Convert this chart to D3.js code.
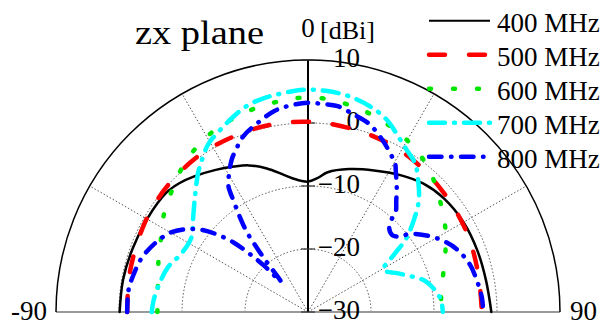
<!DOCTYPE html>
<html>
<head>
<meta charset="utf-8">
<title>zx plane</title>
<style type="text/css">
body {margin: 0; background: #fff;}
svg text {font-family: "Liberation Serif", "Times New Roman", serif; fill: #000;}
</style>
<script src="https://d3js.org/d3.v7.min.js"></script>
</head>
<body>
<svg width="613" height="332"></svg>
<script>
// gain [dBi] vs angle [deg]
var g400 = [[-90,-0.1],[-80,-0.2],[-70,-0.4],[-60,-0.5],[-50,-0.6],[-45,-1.1],[-40,-1.9],[-33,-3.1],[-27,-4.1],[-22,-4.9],[-16,-6.3],[-10,-7.9],[-5,-8.9],[0,-9.3],[4,-8.7],[8,-7.6],[16,-6.4],[25,-5.2],[34,-3.8],[42,-2.6],[50,-1.9],[60,-1.5],[70,-1.4],[80,-1.3],[90,-0.9]];
var g500 = [[-90,-1.3],[-80,-1.1],[-72,-0.9],[-62,-0.5],[-54,-0.2],[-47,0],[-38,0.2],[-31,0.3],[-18,0.3],[-8,0.3],[0,0.2],[6,0.1],[19,-0.2],[33,-0.6],[48,-1.3],[63,-1.8],[77,-2.3],[90,-2.4]];
var g600 = [[-90,-6.1],[-80,-5.8],[-71,-4.9],[-64,-4.0],[-56,-2.4],[-48,-1.0],[-41,0.4],[-32,1.9],[-24,2.7],[-16,3.3],[-9,3.7],[-3,4.0],[4,4.0],[10,3.6],[17,3.0],[25,2.1],[34,0.9],[42,-0.7],[49,-2.4],[57,-4.1],[65,-5.9],[73,-7.5],[83,-8.7],[90,-8.9]];
var g700 = [[-90,-5.2],[-86,-5.4],[-79,-6.0],[-72,-6.7],[-65,-7.9],[-57,-8.0],[-52,-6.8],[-44.5,-4.4],[-38.4,-1.9],[-35,-0.6],[-30.7,1.0],[-26.6,1.9],[-23,2.7],[-19.6,3.5],[-16,4.2],[-11.8,4.65],[-4.4,5.1],[0,5.3],[5,5.2],[10.3,4.9],[16.7,4.1],[22.2,3.0],[27.3,1.3],[31.4,0.1],[35.7,-0.9],[39.8,-2.7],[44.9,-5.1],[49.7,-8.2],[53.4,-10.7],[56,-13.3],[60.8,-16.3],[66.4,-14.6],[71.5,-12.4],[75.7,-10.6],[84,-8.9],[90,-8.6]];
var g800 = [[-90,-1.3],[-83,-1.3],[-77.7,-1.7],[-72,-2.25],[-65.7,-3.4],[-60,-4.8],[-55.6,-6.7],[-52.1,-8.8],[-49.4,-11.2],[-46.9,-13.9],[-45,-17.1],[-43.5,-19.8],[-41.7,-23.5],[-39.5,-19.5],[-38.5,-16.9],[-37.4,-14],[-35.5,-11.2],[-33.7,-8.6],[-33,-7.3],[-32.1,-6.2],[-26.7,-3.0],[-24,-1.85],[-20.3,-0.3],[-14.7,1.1],[-9.5,2.35],[-5,2.9],[0,3.2],[4,3.1],[8.2,3.0],[12.9,2.2],[18,1.4],[23.4,-0.25],[28.2,-1.9],[30.3,-2.6],[32,-3.7],[35.6,-5.8],[38.5,-7.5],[41.1,-8.8],[42.1,-10.2],[44.2,-11.5],[47.5,-11.9],[50.7,-11.1],[52.3,-9.75],[56.7,-7.8],[61.5,-6.0],[67,-4.4],[73.8,-3.2],[79.9,-2.7],[85.2,-2.3],[90,-2.2]];

var seriesNames = ["400 MHz", "500 MHz", "600 MHz", "700 MHz", "800 MHz"];
var seriesData = [g400, g500, g600, g700, g800];
var seriesColors = ["#000000", "#ff0000", "#00e600", "#00ffff", "#0000ff"];
var seriesDash = [null, "16,24", "2,22", "16,9,1,9", "12.5,9.5,0.5,9.5"];
var seriesWidth = [2.5, 4.5, 4.5, 4.5, 4.5];

var radialTicks = [-30, -20, -10, 0, 10];
var gridLevels = [-20, -10, 0];
var spokeAngles = [-60, -30, 30, 60];
var angleLabels = [-90, 0, 90];

var svg = d3.select("svg"),
    cx = 308, cy = 312, R = 252;

var r = d3.scaleLinear().domain([-30, 10]).range([0, R]);
var rad = function(a) { return a * Math.PI / 180; };

var g = svg.append("g").attr("transform", "translate(" + cx + "," + cy + ")");

function halfArc(radius) {
    var p = d3.path();
    p.arc(0, 0, radius, -Math.PI, 0);
    return p.toString();
}

// dotted grid circles
g.selectAll(".grid")
    .data(gridLevels)
    .enter().append("path")
    .attr("d", function(d) { return halfArc(r(d)); })
    .attr("fill", "none")
    .attr("stroke", "#555")
    .attr("stroke-width", 1)
    .attr("stroke-dasharray", "1.5,2");

// dotted spokes
g.selectAll(".spoke")
    .data(spokeAngles)
    .enter().append("line")
    .attr("x1", 0).attr("y1", 0)
    .attr("x2", function(d) { return r(10) * Math.sin(rad(d)); })
    .attr("y2", function(d) { return -r(10) * Math.cos(rad(d)); })
    .attr("stroke", "#555")
    .attr("stroke-width", 1)
    .attr("stroke-dasharray", "1.5,2");

// baseline
g.append("line")
    .attr("x1", -r(10)).attr("x2", r(10))
    .attr("y1", 0).attr("y2", 0)
    .attr("stroke", "#999")
    .attr("stroke-width", 2);

// outer circle
g.append("path")
    .attr("d", halfArc(r(10)))
    .attr("fill", "none")
    .attr("stroke", "#000")
    .attr("stroke-width", 1.5);

// radial axis
g.append("line")
    .attr("x1", 0).attr("x2", 0)
    .attr("y1", 0).attr("y2", -r(10))
    .attr("stroke", "#000")
    .attr("stroke-width", 2);

g.selectAll(".tick")
    .data(radialTicks)
    .enter().append("line")
    .attr("x1", -7).attr("x2", 7)
    .attr("y1", function(d) { return -r(d); })
    .attr("y2", function(d) { return -r(d); })
    .attr("stroke", "#333")
    .attr("stroke-width", 1.2);

g.selectAll(".rlabel")
    .data(radialTicks)
    .enter().append("text")
    .attr("x", 52)
    .attr("y", function(d) { return -r(d) - 2; })
    .attr("dy", "0.35em")
    .attr("text-anchor", "end")
    .style("font-size", "27px")
    .text(function(d) { return d < 0 ? "\u2212" + Math.abs(d) : d; });

// curves
var line = d3.lineRadial()
    .angle(function(d) { return rad(d[0]); })
    .radius(function(d) { return r(d[1]); })
    .curve(d3.curveCatmullRom.alpha(0.5));

g.selectAll(".curve")
    .data(seriesData)
    .enter().append("path")
    .attr("d", line)
    .attr("fill", "none")
    .attr("stroke", function(d, i) { return seriesColors[i]; })
    .attr("stroke-width", function(d, i) { return seriesWidth[i]; })
    .attr("stroke-dasharray", function(d, i) { return seriesDash[i]; })
    .attr("stroke-linecap", "round")
    .attr("stroke-linejoin", "round");

// angle labels
svg.append("text").attr("x", 47).attr("y", 320).attr("text-anchor", "end")
    .style("font-size", "27px").text(angleLabels[0]);
svg.append("text").attr("x", 308).attr("y", 37).attr("text-anchor", "middle")
    .style("font-size", "27px").text(angleLabels[1]);
svg.append("text").attr("x", 570).attr("y", 320).attr("text-anchor", "start")
    .style("font-size", "27px").text(angleLabels[2]);
svg.append("text").attr("x", 320).attr("y", 39)
    .style("font-size", "26px").text("[dBi]");

// title
svg.append("text")
    .attr("x", 135).attr("y", 43.5)
    .attr("textLength", 129)
    .attr("lengthAdjust", "spacingAndGlyphs")
    .style("font-size", "33px")
    .text("zx plane");

// legend
var legend = svg.append("g")
    .selectAll("g")
    .data(seriesNames)
    .enter().append("g")
    .attr("transform", function(d, i) { return "translate(0," + (20.7 + i * 34) + ")"; });

legend.append("line")
    .attr("x1", 429).attr("x2", 490)
    .attr("y1", 0).attr("y2", 0)
    .attr("stroke", function(d, i) { return seriesColors[i]; })
    .attr("stroke-width", function(d, i) { return i == 0 ? 2 : 4.5; })
    .attr("stroke-dasharray", function(d, i) { return seriesDash[i]; })
    .attr("stroke-linecap", function(d, i) { return i == 0 ? "butt" : "round"; });

legend.append("text")
    .attr("x", 497)
    .attr("y", 11)
    .style("font-size", "27px")
    .text(function(d) { return d; });
</script>
</body>
</html>
